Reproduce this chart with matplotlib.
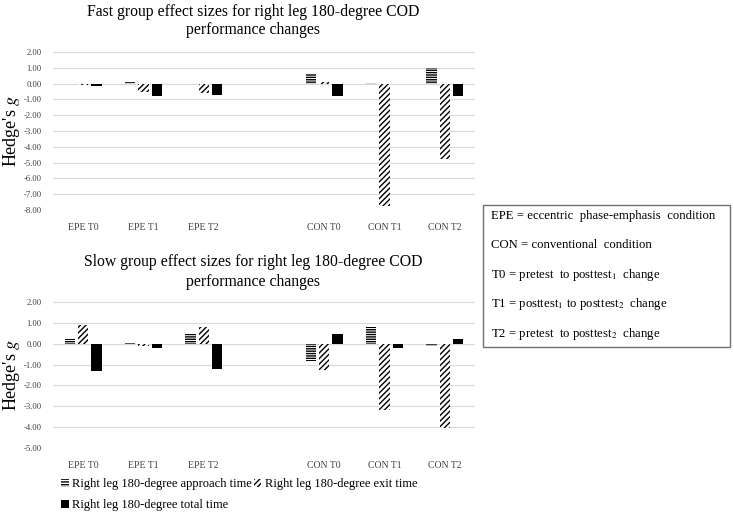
import matplotlib
matplotlib.use("Agg")
import matplotlib.pyplot as plt
import numpy as np
from matplotlib.patches import Rectangle, Patch

plt.rcParams['font.family'] = ['Liberation Serif', 'DejaVu Serif']
plt.rcParams['mathtext.fontset'] = 'stix'
plt.rcParams['hatch.linewidth'] = 1.0

# categories (empty slot between EPE and CON groups)
categories = ["EPE T0", "EPE T1", "EPE T2", "", "CON T0", "CON T1", "CON T2"]
series_names = ["Right leg 180-degree approach time",
                "Right leg 180-degree exit time",
                "Right leg 180-degree total time"]

# fast group (None for the empty slot)
fast_approach = [-0.05, 0.07, 0.0, None, 0.6, 0.05, 1.0]
fast_exit = [-0.12, -0.5, -0.6, None, 0.12, -7.75, -4.75]
fast_total = [-0.15, -0.8, -0.7, None, -0.8, -0.05, -0.8]

# slow group
slow_approach = [0.25, 0.05, 0.48, None, -0.85, 0.8, -0.1]
slow_exit = [0.9, -0.1, 0.8, None, -1.28, -3.2, -4.05]
slow_total = [-1.3, -0.2, -1.22, None, 0.45, -0.2, 0.25]

W, H = 734, 519
fig = plt.figure(figsize=(W / 100, H / 100), dpi=100)


def fx(px):
    return px / W


def fy(py):
    return 1 - py / H


styles = [dict(color="white", edgecolor="black", hatch="-------", linewidth=0),
          dict(color="white", edgecolor="black", hatch="//////", linewidth=0),
          dict(color="black", edgecolor="black", linewidth=0)]


def draw_panel(rect, title, title_y, data, ylim, ticks):
    ax = fig.add_axes(rect)
    x = np.arange(len(categories))
    bw = 0.17
    offs = [-0.22, 0.0, 0.22]
    for vals, off, st in zip(data, offs, styles):
        xs = [xi + off for xi, v in zip(x, vals) if v is not None]
        vs = [v for v in vals if v is not None]
        ax.bar(xs, vs, bw, zorder=3, **st)
    ax.set_xlim(-0.5, len(categories) - 0.5)
    ax.set_ylim(*ylim)
    ax.set_yticks(ticks)
    ax.set_yticklabels(["%.2f" % t for t in ticks], fontsize=6.2, color="#404040")
    ax.set_xticks(x)
    ax.set_xticklabels(categories, fontsize=7, color="#404040")
    ax.tick_params(length=0, axis="y", pad=8)
    ax.tick_params(length=0, axis="x", pad=9)
    ax.grid(axis="y", color="#d9d9d9", linewidth=0.8, zorder=0)
    for s in ax.spines.values():
        s.set_visible(False)
    ax.set_ylabel("Hedge's $\\mathit{g}$", fontsize=13, labelpad=1)
    fig.text(fx(253), fy(title_y), title, ha="center", va="center",
             fontsize=11.3, linespacing=1.25)
    return ax


draw_panel([fx(53), fy(210), fx(422), (210 - 52) / H],
           "Fast group effect sizes for right leg 180-degree COD\nperformance changes",
           21, [fast_approach, fast_exit, fast_total], (-8, 2),
           np.arange(2, -8.5, -1))

draw_panel([fx(53), fy(448), fx(422), (448 - 302) / H],
           "Slow group effect sizes for right leg 180-degree COD\nperformance changes",
           272, [slow_approach, slow_exit, slow_total], (-5, 2),
           np.arange(2, -5.5, -1))

# legend below the lower panel
handles = [Patch(facecolor="white", edgecolor="black", hatch="------", linewidth=0),
           Patch(facecolor="black", edgecolor="black", linewidth=0),
           Patch(facecolor="white", edgecolor="black", hatch="//////", linewidth=0)]
labels = [series_names[0], series_names[2], series_names[1]]
fig.legend(handles, labels, ncol=2, loc="upper left",
           bbox_to_anchor=(fx(61), fy(478)), frameon=False, fontsize=9,
           handlelength=0.6, handleheight=0.6, handletextpad=0.3,
           columnspacing=0.15, labelspacing=0.75, borderaxespad=0, borderpad=0)

# abbreviation box
fig.patches.append(Rectangle((fx(483), fy(347)), fx(730) - fx(483), fy(205) - fy(347),
                             transform=fig.transFigure, facecolor="white",
                             edgecolor="#707070", linewidth=1))
box_lines = ["EPE = eccentric  phase-emphasis  condition",
             "CON = conventional  condition",
             "T0 = pretest  to posttest$_1$  change",
             "T1 = posttest$_1$ to posttest$_2$  change",
             "T2 = pretest  to posttest$_2$  change"]
box_y = [216, 245, 275, 304, 334]
for txt, yy in zip(box_lines, box_y):
    fig.text(fx(491), fy(yy), txt, ha="left", va="center", fontsize=9.2)

fig.savefig("out.png", dpi=100)
